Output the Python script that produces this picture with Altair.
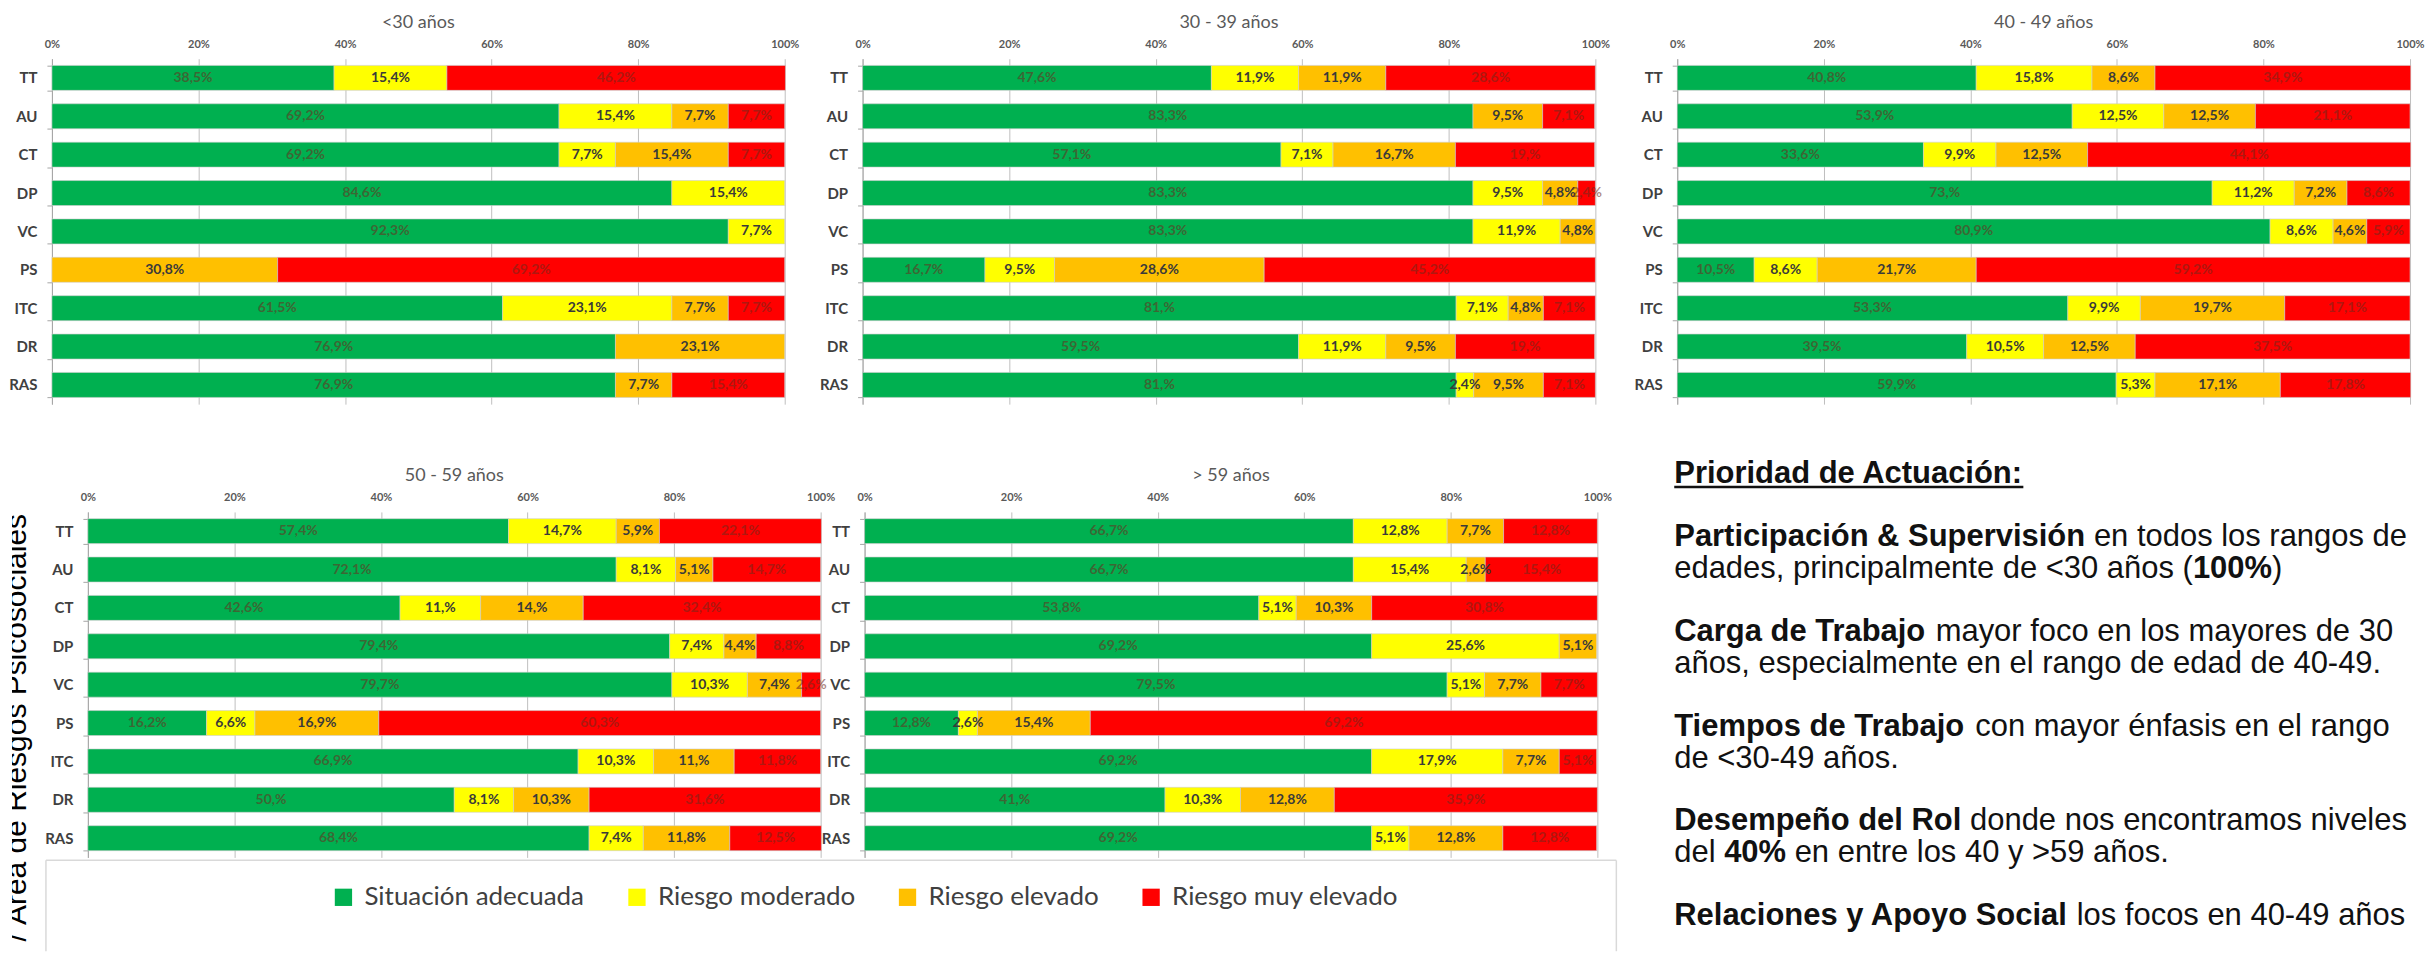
import altair as alt
import pandas as pd

# ---------------- data ----------------
categories = ["TT", "AU", "CT", "DP", "VC", "PS", "ITC", "DR", "RAS"]
levels = ["Situación adecuada", "Riesgo moderado", "Riesgo elevado", "Riesgo muy elevado"]
level_colors = ["#00B050", "#FFFF00", "#FFC000", "#FF0000"]
age_groups = ["<30 años", "30 - 39 años", "40 - 49 años", "50 - 59 años", "> 59 años"]

u30_adecuada = [38.5, 69.2, 69.2, 84.6, 92.3, 0.0, 61.5, 76.9, 76.9]
u30_moderado = [15.4, 15.4, 7.7, 15.4, 7.7, 0.0, 23.1, 0.0, 0.0]
u30_elevado = [0.0, 7.7, 15.4, 0.0, 0.0, 30.8, 7.7, 23.1, 7.7]
u30_muy = [46.2, 7.7, 7.7, 0.0, 0.0, 69.2, 7.7, 0.0, 15.4]

a30_adecuada = [47.6, 83.3, 57.1, 83.3, 83.3, 16.7, 81.0, 59.5, 81.0]
a30_moderado = [11.9, 0.0, 7.1, 9.5, 11.9, 9.5, 7.1, 11.9, 2.4]
a30_elevado = [11.9, 9.5, 16.7, 4.8, 4.8, 28.6, 4.8, 9.5, 9.5]
a30_muy = [28.6, 7.1, 19.0, 2.4, 0.0, 45.2, 7.1, 19.0, 7.1]

a40_adecuada = [40.8, 53.9, 33.6, 73.0, 80.9, 10.5, 53.3, 39.5, 59.9]
a40_moderado = [15.8, 12.5, 9.9, 11.2, 8.6, 8.6, 9.9, 10.5, 5.3]
a40_elevado = [8.6, 12.5, 12.5, 7.2, 4.6, 21.7, 19.7, 12.5, 17.1]
a40_muy = [34.9, 21.1, 44.1, 8.6, 5.9, 59.2, 17.1, 37.5, 17.8]

a50_adecuada = [57.4, 72.1, 42.6, 79.4, 79.7, 16.2, 66.9, 50.0, 68.4]
a50_moderado = [14.7, 8.1, 11.0, 7.4, 10.3, 6.6, 10.3, 8.1, 7.4]
a50_elevado = [5.9, 5.1, 14.0, 4.4, 7.4, 16.9, 11.0, 10.3, 11.8]
a50_muy = [22.1, 14.7, 32.4, 8.8, 2.6, 60.3, 11.8, 31.6, 12.5]

o59_adecuada = [66.7, 66.7, 53.8, 69.2, 79.5, 12.8, 69.2, 41.0, 69.2]
o59_moderado = [12.8, 15.4, 5.1, 25.6, 5.1, 2.6, 17.9, 10.3, 5.1]
o59_elevado = [7.7, 2.6, 10.3, 5.1, 7.7, 15.4, 7.7, 12.8, 12.8]
o59_muy = [12.8, 15.4, 30.8, 0.0, 7.7, 69.2, 5.1, 35.9, 12.8]

series = {
    age_groups[0]: [u30_adecuada, u30_moderado, u30_elevado, u30_muy],
    age_groups[1]: [a30_adecuada, a30_moderado, a30_elevado, a30_muy],
    age_groups[2]: [a40_adecuada, a40_moderado, a40_elevado, a40_muy],
    age_groups[3]: [a50_adecuada, a50_moderado, a50_elevado, a50_muy],
    age_groups[4]: [o59_adecuada, o59_moderado, o59_elevado, o59_muy],
}

side_text = "I / Área de Riesgos Psicosociales"
prio_title = "Prioridad de Actuación:"
prio_paragraphs = [
    [[("Participación & Supervisión", True), (" en todos los rangos de", False)],
     [("edades, principalmente de <30 años (", False), ("100%", True), (")", False)]],
    [[("Carga de Trabajo", True), (" mayor foco en los mayores de 30", False)],
     [("años, especialmente en el rango de edad de 40-49.", False)]],
    [[("Tiempos de Trabajo", True), (" con mayor énfasis en el rango", False)],
     [("de <30-49 años.", False)]],
    [[("Desempeño del Rol", True), (" donde nos encontramos niveles", False)],
     [("del ", False), ("40%", True), (" en entre los 40 y >59 años.", False)]],
    [[("Relaciones y Apoyo Social", True), (" los focos en 40-49 años", False)]],
]


def fmt(v):
    if abs(v - round(v)) < 1e-9:
        return f"{int(round(v))},%"
    return f"{v:.1f}".replace(".", ",") + "%"


rows = []
for g, lists in series.items():
    for li, vals in enumerate(lists):
        for f, v in zip(categories, vals):
            rows.append(dict(grupo=g, factor=f, nivel=levels[li], orden=li, valor=v, etiqueta=fmt(v)))
df = pd.DataFrame(rows)

# ---------------- styles ----------------
W = 734
H = 346

legend_def = alt.Legend(
    title=None, orient="none", legendX=319, legendY=827, direction="horizontal",
    symbolType="square", symbolSize=300, symbolStrokeWidth=0, symbolOpacity=1,
    labelFont="Lato", labelFontSize=26, labelColor="#404040", labelOffset=8,
    columnPadding=39, labelLimit=500,
)

x_axis = alt.Axis(orient="top", values=[0, 20, 40, 60, 80, 100], labelExpr="datum.value + '%'",
                  grid=True, gridColor="#bfbfbf", gridWidth=1, domain=False, ticks=False, tickSize=0,
                  labelFont="Lato", labelFontSize=11, labelFontWeight="bold", labelColor="#595959",
                  labelPadding=9, labelFlush=False, minExtent=22, maxExtent=22, title=None)
y_axis = alt.Axis(domainColor="#a6a6a6", tickColor="#a6a6a6", tickSize=5, tickBand="extent",
                  labelFont="Lato", labelFontSize=15, labelFontWeight="bold", labelColor="#404040",
                  labelPadding=10, minExtent=40, maxExtent=40, title=None, grid=False)


def panel(g):
    sub = df[(df.grupo == g) & (df.valor > 0)]
    base = alt.Chart(sub).transform_stack(
        stack="valor", groupby=["factor"], as_=["x0", "x1"],
        sort=[alt.SortField("orden", order="ascending")],
    )
    xs = alt.Scale(domain=[0, 100], nice=False)
    ys = alt.Scale(domain=categories, paddingInner=0.35, paddingOuter=0.175)
    bars = base.mark_bar(stroke="#cfcfcf", strokeWidth=0.6).encode(
        x=alt.X("x0:Q", scale=xs, axis=x_axis),
        x2="x1:Q",
        y=alt.Y("factor:N", scale=ys, axis=y_axis),
        color=alt.Color("nivel:N", scale=alt.Scale(domain=levels, range=level_colors), legend=legend_def),
    )
    is_mid = alt.FieldOneOfPredicate(field="nivel", oneOf=[levels[1], levels[2]])
    labels = base.transform_calculate(mid="(datum.x0 + datum.x1) / 2").mark_text(
        font="Lato", fontSize=14, fontWeight="bold"
    ).encode(
        x=alt.X("mid:Q", scale=xs, axis=x_axis),
        y=alt.Y("factor:N", scale=ys, axis=y_axis),
        text="etiqueta:N",
        color=alt.condition(is_mid, alt.value("#3a3a3a"), alt.value("#6e2a1e")),
        opacity=alt.condition(is_mid, alt.value(1.0), alt.value(0.55)),
    )
    return alt.layer(bars, labels).properties(
        width=W, height=H,
        title=alt.TitleParams(text=g, font="Lato", fontSize=18, fontWeight="normal", color="#595959",
                              offset=-13, baseline="bottom", anchor="middle"),
    )


def spacer(w, h=H):
    return alt.Chart(pd.DataFrame({"v": [0]})).mark_point(opacity=0, size=1).encode(
        x=alt.value(w / 2), y=alt.value(h / 2)).properties(width=w, height=h)


# ---------------- left strip: rotated text + legend frame ----------------
one = pd.DataFrame({"v": [0]})
strip_txt = alt.Chart(pd.DataFrame({"t": [side_text]})).mark_text(
    angle=270, align="right", baseline="alphabetic", font="Liberation Sans", fontSize=30,
    color="#000000", clip=True,
).encode(x=alt.value(14), y=alt.value(2), text="t:N")
frame_col = "#d9d9d9"
box_top = alt.Chart(one).mark_rule(color=frame_col, strokeWidth=1.5).encode(
    x=alt.value(34), x2=alt.value(1607), y=alt.value(349))
box_left = alt.Chart(one).mark_rule(color=frame_col, strokeWidth=1.5).encode(
    x=alt.value(34), y=alt.value(349), y2=alt.value(440))
box_right = alt.Chart(one).mark_rule(color=frame_col, strokeWidth=1.5).encode(
    x=alt.value(1607), y=alt.value(349), y2=alt.value(440))
strip = alt.layer(box_top, box_left, box_right, strip_txt).properties(width=76, height=440)

# ---------------- right text block ----------------
REG = {' ': 278, '%': 889, '&': 667, '(': 333, ')': 333, ',': 278, '-': 333, '.': 278, '/': 278,
       ':': 278, '<': 584, '>': 584,
       'A': 667, 'B': 667, 'C': 722, 'D': 722, 'E': 667, 'F': 611, 'G': 778, 'H': 722, 'I': 278,
       'J': 500, 'K': 667, 'L': 556, 'M': 833, 'N': 722, 'O': 778, 'P': 667, 'Q': 778, 'R': 722,
       'S': 667, 'T': 611, 'U': 722, 'V': 667, 'W': 944, 'X': 667, 'Y': 667, 'Z': 611,
       'a': 556, 'b': 556, 'c': 500, 'd': 556, 'e': 556, 'f': 278, 'g': 556, 'h': 556, 'i': 222,
       'j': 222, 'k': 500, 'l': 222, 'm': 833, 'n': 556, 'o': 556, 'p': 556, 'q': 556, 'r': 333,
       's': 500, 't': 278, 'u': 556, 'v': 500, 'w': 722, 'x': 500, 'y': 500, 'z': 500,
       'á': 556, 'é': 556, 'í': 278, 'ó': 556, 'ú': 556, 'ñ': 556, 'Á': 667}
BOLD = {' ': 278, '%': 889, '&': 722, '(': 333, ')': 333, ',': 278, '-': 333, '.': 278, '/': 278,
        ':': 333, '<': 584, '>': 584,
        'A': 722, 'B': 722, 'C': 722, 'D': 722, 'E': 667, 'F': 611, 'G': 778, 'H': 722, 'I': 278,
        'J': 556, 'K': 722, 'L': 611, 'M': 833, 'N': 722, 'O': 778, 'P': 667, 'Q': 778, 'R': 722,
        'S': 667, 'T': 611, 'U': 722, 'V': 667, 'W': 944, 'X': 667, 'Y': 667, 'Z': 611,
        'a': 556, 'b': 611, 'c': 556, 'd': 611, 'e': 556, 'f': 333, 'g': 611, 'h': 611, 'i': 278,
        'j': 278, 'k': 556, 'l': 278, 'm': 889, 'n': 611, 'o': 611, 'p': 611, 'q': 611, 'r': 389,
        's': 556, 't': 333, 'u': 611, 'v': 556, 'w': 778, 'x': 556, 'y': 556, 'z': 500,
        'á': 556, 'é': 556, 'í': 278, 'ó': 611, 'ú': 611, 'ñ': 611}
FS = 31


def tw(s, bold):
    t = BOLD if bold else REG
    return sum(t.get(ch, 556) for ch in s) * FS / 1000.0


LINE = 32
PARA = 63
title_y = -29
seg_rows = [dict(seg=prio_title, px=0.0, py=title_y, peso="bold")]
y = 34
for p in prio_paragraphs:
    for li, line in enumerate(p):
        x = 0.0
        for seg, bold in line:
            lead = len(seg) - len(seg.lstrip(" "))
            seg_rows.append(dict(seg=seg.strip(" "), px=x + tw(" " * lead, bold), py=y,
                                 peso="bold" if bold else "normal"))
            x += tw(seg, bold)
        y += LINE
    y += PARA - LINE
txt_df = pd.DataFrame(seg_rows)


def text_layer(weight):
    return alt.Chart(txt_df[txt_df.peso == weight]).mark_text(
        align="left", baseline="alphabetic", font="Liberation Sans", fontSize=FS,
        fontWeight=weight, color="#111111",
    ).encode(
        x=alt.X("px:Q", scale=None, axis=None),
        y=alt.Y("py:Q", scale=None, axis=None),
        text="seg:N",
    )


underline = alt.Chart(one).mark_rule(color="#111111", strokeWidth=2.5).encode(
    x=alt.value(0), x2=alt.value(tw(prio_title, True)), y=alt.value(title_y + 4))
text_cell = alt.layer(text_layer("bold"), text_layer("normal"), underline).properties(width=740, height=H)

# ---------------- layout ----------------
row1 = alt.hconcat(spacer(40), panel(age_groups[0]), spacer(78), panel(age_groups[1]), spacer(82),
                   panel(age_groups[2]), spacing=0, bounds="flush")
row2 = alt.hconcat(strip, panel(age_groups[3]), spacer(44), panel(age_groups[4]), spacer(77),
                   text_cell, spacing=0, bounds="flush")

chart = alt.vconcat(row1, row2, spacing=54, bounds="full").properties(
    padding={"top": 5, "left": 0, "right": 0, "bottom": 0}
).configure(font="Lato").configure_view(stroke=None)

chart.save("out.html", embed_options={"renderer": "svg", "actions": False})
